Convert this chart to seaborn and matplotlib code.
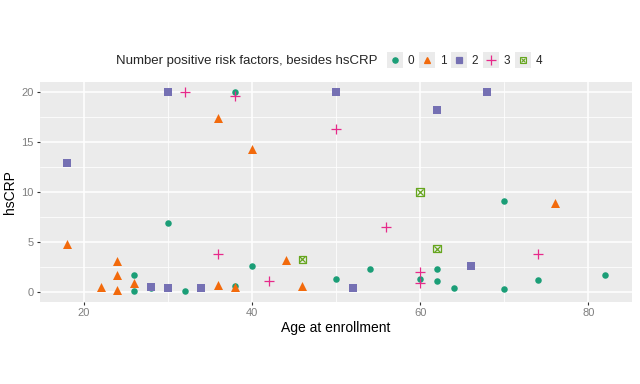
import matplotlib
matplotlib.use('Agg')
import matplotlib.pyplot as plt
from matplotlib.legend_handler import HandlerTuple
from matplotlib.lines import Line2D
import pandas as pd
import seaborn as sns

# age at enrollment / hsCRP for each count of other risk factors
age_0 = [26, 26, 28, 30, 32, 38, 38, 40, 50, 54, 60, 62, 62, 64, 70, 70, 74, 82]
hs_0 = [1.75, 0.15, 0.43, 6.87, 0.13, 20, 0.64, 2.56, 1.31, 2.32, 1.31, 2.32,
        1.14, 0.4, 9.06, 0.3, 1.24, 1.75]
age_1 = [18, 22, 24, 24, 24, 26, 36, 36, 38, 40, 44, 46, 76]
hs_1 = [4.85, 0.47, 3.06, 1.75, 0.23, 0.88, 17.4, 0.7, 0.47, 14.3, 3.23, 0.6, 8.86]
age_2 = [18, 28, 30, 30, 34, 50, 52, 62, 66, 68]
hs_2 = [12.9, 0.54, 20, 0.4, 0.37, 20, 0.37, 18.15, 2.56, 20]
age_3 = [32, 36, 38, 42, 50, 56, 60, 60, 74]
hs_3 = [20, 3.77, 19.6, 1.14, 16.3, 6.46, 2.05, 0.9, 3.77]
age_4 = [46, 60, 62]
hs_4 = [3.26, 10, 4.34]

groups = ['0', '1', '2', '3', '4']
colors = ['#1B9E77', '#F26A0C', '#7570B3', '#E7298A', '#66A61E']

frames = []
for g, a, h in zip(groups, [age_0, age_1, age_2, age_3, age_4],
                   [hs_0, hs_1, hs_2, hs_3, hs_4]):
    frames.append(pd.DataFrame({'age': a, 'hsCRP': h, 'factors': g}))
df = pd.concat(frames, ignore_index=True)

sns.set_theme(style='darkgrid', rc={'axes.facecolor': '#EBEBEB',
                                    'grid.color': 'white',
                                    'xtick.bottom': True, 'ytick.left': True})
plt.rcParams['font.family'] = ['Liberation Sans', 'DejaVu Sans']

fig = plt.figure(figsize=(6.4, 3.84), dpi=100)
ax = fig.add_axes([0.0625, 0.2135, 0.925, 0.573])

markers = {'0': 'o', '1': '^', '2': 's', '3': '+'}
sizes = {'0': 22, '1': 42, '2': 26, '3': 55}
key_ms = {'0': 3.8, '1': 5, '2': 4, '3': 6.5}

handles = []
for g, c in zip(groups, colors):
    sub = df[df['factors'] == g]
    if g == '4':
        sns.scatterplot(data=sub, x='age', y='hsCRP', ax=ax, marker='s',
                        s=30, facecolor='none', edgecolor=c,
                        linewidth=0.9, zorder=3)
        sns.scatterplot(data=sub, x='age', y='hsCRP', ax=ax, marker='x',
                        s=20, color=c, linewidth=0.9, zorder=3)
        key = (Line2D([], [], marker='s', ls='', ms=4.5, mfc='none', mec=c,
                      mew=0.8),
               Line2D([], [], marker='x', ls='', ms=3.5, color=c, mew=0.8))
    else:
        lw = 0.9 if g == '3' else 0
        sns.scatterplot(data=sub, x='age', y='hsCRP', ax=ax,
                        marker=markers[g], s=sizes[g], color=c,
                        linewidth=lw, zorder=3)
        key = (Line2D([], [], marker=markers[g], ls='', ms=key_ms[g],
                      color=c, mew=0.9),)
    bg = Line2D([], [], marker='s', ls='', ms=11, color='#EBEBEB', mew=0)
    handles.append((bg,) + key)

ax.set_xlim(14.8, 85.2)
ax.set_ylim(-1.0, 21.0)
ax.set_xticks([20, 40, 60, 80])
ax.set_yticks([0, 5, 10, 15, 20])
ax.set_xticks([30, 50, 70], minor=True)
ax.set_yticks([2.5, 7.5, 12.5, 17.5], minor=True)
ax.grid(which='major', color='white', linewidth=1.1)
ax.grid(which='minor', color='white', linewidth=0.55)
ax.tick_params(axis='both', which='major', bottom=True, left=True,
               labelsize=8, colors='#333333', labelcolor='#7F7F7F',
               length=2.5, width=0.8, direction='out', pad=2)
ax.tick_params(axis='both', which='minor', length=0)
for s in ax.spines.values():
    s.set_visible(False)
ax.set_xlabel('Age at enrollment', fontsize=10, color='black', labelpad=2)
ax.set_ylabel('hsCRP', fontsize=10, color='black', labelpad=3)

fig.text(116 / 640, 1 - 61 / 384, 'Number positive risk factors, besides hsCRP',
         fontsize=9.5, va='center', ha='left')
fig.legend(handles, groups, ncol=5, frameon=False, fontsize=8.5,
           handler_map={tuple: HandlerTuple(ndivide=1, pad=0)},
           loc='center left', bbox_to_anchor=(389 / 640, 1 - 61 / 384),
           handlelength=1.0, handletextpad=0.6, columnspacing=0.55,
           borderaxespad=0, borderpad=0)

fig.savefig('out.png', dpi=100)
